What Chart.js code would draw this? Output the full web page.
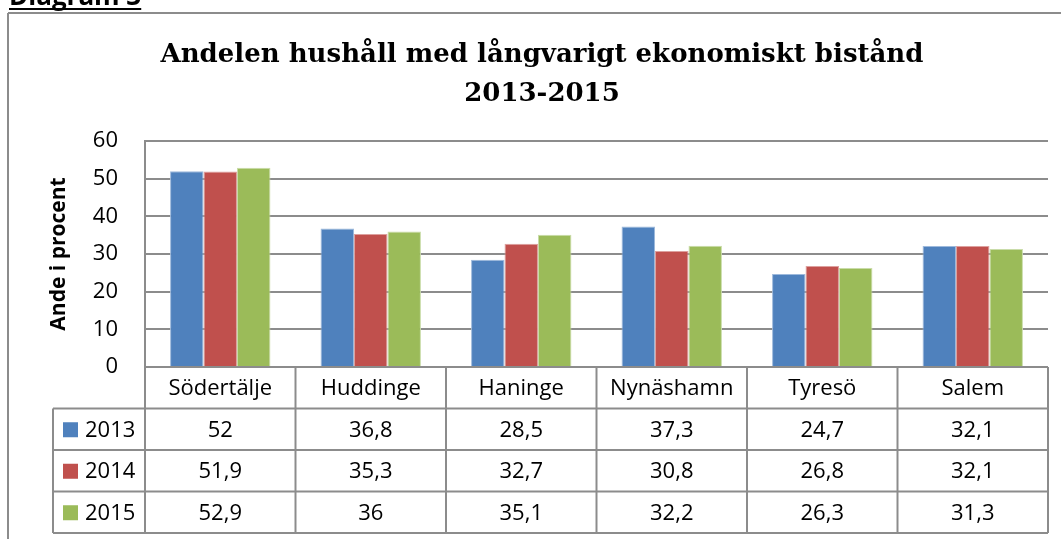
<!DOCTYPE html>
<html lang="sv">
<head>
<meta charset="utf-8">
<title>Diagram 3</title>
<script src="https://cdn.jsdelivr.net/npm/chart.js@4.4.1/dist/chart.umd.min.js"></script>
<style>
  html, body { margin: 0; padding: 0; background: #fff; }
  #wrap { width: 1061px; height: 539px; }
</style>
</head>
<body>
<div id="wrap"><canvas id="chart" width="1061" height="539"></canvas></div>
<script>
// Kommuner och andel hushåll (%) per år
const kommuner = ['Södertälje', 'Huddinge', 'Haninge', 'Nynäshamn', 'Tyresö', 'Salem'];
const ar = ['2013', '2014', '2015'];
const andel2013 = [52, 36.8, 28.5, 37.3, 24.7, 32.1];
const andel2014 = [51.9, 35.3, 32.7, 30.8, 26.8, 32.1];
const andel2015 = [52.9, 36, 35.1, 32.2, 26.3, 31.3];
const yTicks = [0, 10, 20, 30, 40, 50, 60];

const farger = ['#4F81BD', '#C0504D', '#9BBB59'];
const kantFarger = ['#9DB9DC', '#DDA09E', '#C9DCA9'];
const linjeFarg = '#8c8c8c';
const titelRader = ['Andelen hushåll med långvarigt ekonomiskt bistånd', '2013-2015'];

// Siffror med decimalkomma
function formatera(v) {
  return String(v).replace('.', ',');
}

function linje(ctx, x1, y1, x2, y2) {
  ctx.beginPath();
  ctx.moveTo(x1, y1);
  ctx.lineTo(x2, y2);
  ctx.stroke();
}

// Ram, rubrik och datatabell under diagrammet
const ramOchTabell = {
  id: 'ramOchTabell',
  beforeDraw(chart) {
    const ctx = chart.ctx;
    ctx.save();
    ctx.fillStyle = '#fff';
    ctx.fillRect(0, 0, chart.width, chart.height);

    // yttre ram
    ctx.strokeStyle = linjeFarg;
    ctx.lineWidth = 2;
    linje(ctx, 8, 13, chart.width, 13);
    linje(ctx, 8, 13, 8, chart.height);

    // "Diagram 3" (avklippt upptill)
    ctx.fillStyle = '#000';
    ctx.font = 'bold 26px "Open Sans"';
    ctx.textAlign = 'left';
    ctx.textBaseline = 'alphabetic';
    ctx.fillText('Diagram 3', 9, 5);
    const w = ctx.measureText('Diagram 3').width;
    ctx.strokeStyle = '#000';
    linje(ctx, 9, 9, 9 + w, 9);

    // rubrik
    ctx.font = 'bold 26px "DejaVu Serif"';
    ctx.textAlign = 'center';
    ctx.fillText(titelRader[0], 542, 62);
    ctx.fillText(titelRader[1], 542, 101);
    ctx.restore();
  },
  afterDraw(chart) {
    const ctx = chart.ctx;
    const x = chart.scales.x;
    const area = chart.chartArea;
    const halv = (x.getPixelForValue(1) - x.getPixelForValue(0)) / 2;
    const radH = 41.5;
    const topp = area.bottom;
    const legendVanster = 53;
    const rader = chart.data.datasets;

    ctx.save();
    ctx.strokeStyle = linjeFarg;
    ctx.lineWidth = 2;
    for (let r = 0; r <= 4; r++) {
      const y = topp + r * radH;
      linje(ctx, r === 0 ? area.left : legendVanster, y, area.right, y);
    }
    linje(ctx, legendVanster, topp + radH, legendVanster, topp + 4 * radH);
    for (let i = 0; i <= kommuner.length; i++) {
      const xx = i < kommuner.length ? x.getPixelForValue(i) - halv : x.getPixelForValue(i - 1) + halv;
      linje(ctx, xx, topp, xx, topp + 4 * radH);
    }

    ctx.fillStyle = '#000';
    ctx.font = '22px "Open Sans"';
    ctx.textAlign = 'center';
    ctx.textBaseline = 'middle';
    kommuner.forEach(function(namn, i) {
      ctx.fillText(namn, x.getPixelForValue(i), topp + radH / 2 + 1);
    });

    rader.forEach(function(ds, r) {
      const yMitt = topp + (r + 1.5) * radH + 1;
      ctx.fillStyle = ds.backgroundColor;
      ctx.fillRect(63, yMitt - 8, 15, 15);
      ctx.fillStyle = '#000';
      ctx.textAlign = 'left';
      ctx.fillText(ds.label, 85, yMitt);
      ctx.textAlign = 'center';
      ds.data.forEach(function(v, i) {
        ctx.fillText(formatera(v), x.getPixelForValue(i), yMitt);
      });
    });
    ctx.restore();
  }
};

const ctx = document.getElementById('chart').getContext('2d');
const chart = new Chart(ctx, {
  type: 'bar',
  data: {
    labels: kommuner,
    datasets: [andel2013, andel2014, andel2015].map(function(d, i) {
      return {
        label: ar[i],
        data: d,
        backgroundColor: farger[i],
        borderColor: kantFarger[i],
        borderWidth: { top: 1, left: 1, right: 1, bottom: 0 },
        categoryPercentage: 0.667,
        barPercentage: 1
      };
    })
  },
  options: {
    responsive: false,
    animation: false,
    layout: {
      padding: { left: 8, top: 141, right: 13, bottom: 172 }
    },
    scales: {
      x: {
        display: false
      },
      y: {
        min: 0,
        max: 60,
        afterBuildTicks: function(s) {
          s.ticks = yTicks.map(v => ({ value: v }));
        },
        afterFit: function(s) {
          s.width = 137;
        },
        ticks: {
          padding: 27,
          color: '#000',
          font: { family: 'Open Sans', size: 22 }
        },
        grid: {
          color: linjeFarg,
          lineWidth: 2,
          drawTicks: false
        },
        border: {
          display: true,
          color: linjeFarg,
          width: 2
        },
        title: {
          display: true,
          text: 'Ande i procent',
          color: '#000',
          font: { family: 'Open Sans', size: 21, weight: 'bold' },
          padding: { top: 38, bottom: 0 }
        }
      }
    },
    plugins: {
      legend: { display: false },
      tooltip: { enabled: false }
    }
  },
  plugins: [ramOchTabell]
});
</script>
</body>
</html>
